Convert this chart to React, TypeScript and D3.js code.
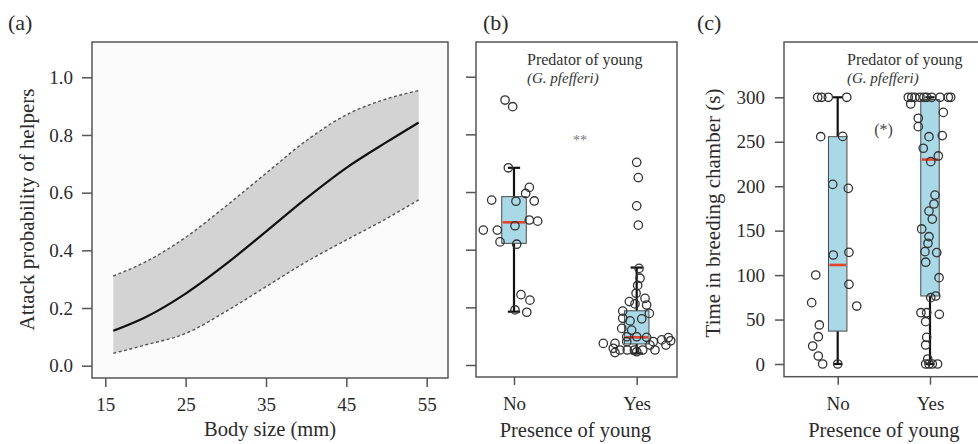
import React, { useRef, useEffect } from 'react';
import * as d3 from 'd3';

// (a) fitted attack probability vs body size
const bodySize = [16, 20, 25, 30, 35, 40, 45, 50, 54];
const attackFit = [0.121, 0.168, 0.25, 0.352, 0.465, 0.58, 0.686, 0.775, 0.843];
const attackUpper = [0.311, 0.36, 0.445, 0.553, 0.667, 0.78, 0.87, 0.925, 0.954];
const attackLower = [0.043, 0.072, 0.112, 0.188, 0.274, 0.36, 0.436, 0.51, 0.575];
const probTicks = [0, 0.2, 0.4, 0.6, 0.8, 1.0];
const sizeTicks = [15, 25, 35, 45, 55];

const groups = ['No', 'Yes'];

// (b) attack probability by presence of young
const attackNo = [0.919, 0.896, 0.684, 0.616, 0.595, 0.572, 0.568, 0.569, 0.499, 0.503, 0.483, 0.468, 0.468, 0.427, 0.419, 0.244, 0.225, 0.191, 0.183];
const attackNoJitter = [-0.073, -0.011, -0.046, 0.125, 0.095, -0.182, 0.016, 0.165, 0.193, 0.125, 0.008, -0.25, -0.136, -0.114, 0.022, 0.057, 0.13, 0.008, 0.104];
const attackYes = [0.703, 0.65, 0.552, 0.485, 0.335, 0.301, 0.276, 0.249, 0.22, 0.231, 0.208, 0.212, 0.187, 0.179, 0.153, 0.16, 0.162, 0.121, 0.127, 0.098, 0.098, 0.096, 0.075, 0.075, 0.081, 0.081, 0.087, 0.095, 0.084, 0.069, 0.058, 0.043, 0.052, 0.052, 0.052, 0.052, 0.052, 0.046, 0.069];
const attackYesJitter = [0, 0.013, 0, 0.013, 0.019, 0.027, 0.008, -0.005, -0.06, 0.068, 0.081, -0.014, -0.114, 0.103, -0.054, 0.041, -0.114, -0.041, -0.122, -0.081, 0, 0.081, -0.272, -0.177, -0.081, 0.135, 0.204, 0.258, 0.277, 0.238, -0.191, -0.177, -0.136, -0.077, -0.019, 0.049, 0.149, 0, 0.108];
const attackQ1 = [0.422, 0.073];
const attackMedian = [0.495, 0.096];
const attackQ3 = [0.584, 0.188];
const attackWhiskerLow = [0.185, 0.04];
const attackWhiskerHigh = [0.684, 0.338];

// (c) time in breeding chamber
const timeTicks = [0, 50, 100, 150, 200, 250, 300];
const timeNo = [300, 300, 300, 300, 255.7, 256, 202, 197.6, 122.6, 125.6, 89.6, 65.2, 100.1, 69, 43.9, 30.7, 20.2, 9, 0, 0];
const timeNoJitter = [-0.217, -0.173, -0.102, 0.098, -0.184, 0.054, -0.054, 0.115, -0.048, 0.122, 0.122, 0.206, -0.238, -0.282, -0.199, -0.21, -0.271, -0.21, -0.163, 0];
const timeYes = [300, 300, 300, 300, 300, 300, 300, 300, 300, 300, 292.5, 276.4, 267, 283, 255.7, 256.9, 242.7, 227.6, 234, 190, 180, 172, 163, 151.9, 143.2, 135.8, 126.4, 125.3, 114.5, 97.1, 76.5, 74.6, 57.7, 57.7, 55.9, 47.6, 30, 21.4, 5.6, 0, 0, 0, 0];
const timeYesJitter = [-0.235, -0.198, -0.163, -0.108, -0.065, -0.036, 0.018, 0.108, 0.198, 0.224, -0.209, -0.127, -0.127, 0.144, -0.011, 0.133, -0.073, 0.008, 0.09, 0.054, 0.043, -0.011, 0.025, -0.09, -0.011, -0.022, -0.054, 0.073, -0.047, 0.098, 0.062, 0.008, -0.098, -0.036, 0.101, -0.047, -0.036, -0.047, -0.025, -0.047, -0.011, 0.025, 0.082];
const timeQ1 = [37, 76.5];
const timeMedian = [111.4, 230];
const timeQ3 = [255.7, 297.5];
const timeWhiskerLow = [0, 0];
const timeWhiskerHigh = [300, 300];

const FONT = '"Liberation Serif", "Times New Roman", serif';
const INK = '#2b2b2b';
const FRAME = '#555';

export default function App() {
  const svgRef = useRef<SVGSVGElement>(null);

  useEffect(() => {
    if (!svgRef.current) return;
    const svg = d3.select(svgRef.current);
    svg.selectAll('*').remove();
    svg.style('font-family', FONT);

    const styleAxis = (g: any, fontSize: number) => {
      g.select('.domain').remove();
      g.attr('font-family', null);
      g.selectAll('line').attr('stroke', FRAME).attr('stroke-width', 1.5);
      g.selectAll('text').attr('fill', INK).style('font-size', `${fontSize}px`).style('font-family', FONT);
    };

    const panelLabel = (x: number, label: string) =>
      svg.append('text').attr('x', x).attr('y', 30).attr('fill', INK)
        .style('font-size', '22px').text(label);

    // ---------- Panel (a) ----------
    const a = { left: 92, right: 448, top: 42, bottom: 378 };
    const xA = d3.scaleLinear().domain([15, 55]).range([105.3, 426.7]);
    const yA = d3.scaleLinear().domain([0, 1]).range([365.7, 77.3]);

    svg.append('rect')
      .attr('x', a.left).attr('y', a.top)
      .attr('width', a.right - a.left).attr('height', a.bottom - a.top)
      .attr('fill', '#fbfbfb');

    const band = bodySize.map((s, i) => ({ s, lo: attackLower[i], hi: attackUpper[i], fit: attackFit[i] }));
    svg.append('path')
      .datum(band)
      .attr('fill', '#d3d3d3')
      .attr('d', d3.area<any>().curve(d3.curveMonotoneX)
        .x(d => xA(d.s)).y0(d => yA(d.lo)).y1(d => yA(d.hi)));

    (['lo', 'hi'] as const).forEach(key => {
      svg.append('path')
        .datum(band)
        .attr('fill', 'none')
        .attr('stroke', '#555')
        .attr('stroke-width', 1.4)
        .attr('stroke-dasharray', '3,2.5')
        .attr('d', d3.line<any>().curve(d3.curveMonotoneX).x(d => xA(d.s)).y(d => yA(d[key])));
    });

    svg.append('path')
      .datum(band)
      .attr('fill', 'none')
      .attr('stroke', '#111')
      .attr('stroke-width', 2.2)
      .attr('d', d3.line<any>().curve(d3.curveMonotoneX).x(d => xA(d.s)).y(d => yA(d.fit)));

    svg.append('rect')
      .attr('x', a.left).attr('y', a.top)
      .attr('width', a.right - a.left).attr('height', a.bottom - a.top)
      .attr('fill', 'none').attr('stroke', FRAME).attr('stroke-width', 1.5);

    svg.append('g')
      .attr('transform', `translate(${a.left},0)`)
      .call(d3.axisLeft(yA).tickValues(probTicks).tickFormat(d3.format('.1f')).tickSize(10).tickPadding(9) as any)
      .call((g: any) => styleAxis(g, 19));

    svg.append('g')
      .attr('transform', `translate(0,${a.bottom})`)
      .call(d3.axisBottom(xA).tickValues(sizeTicks).tickFormat(d3.format('d')).tickSize(9).tickPadding(11) as any)
      .call((g: any) => styleAxis(g, 19));

    svg.append('text')
      .attr('transform', 'translate(34,209.5) rotate(-90)')
      .attr('text-anchor', 'middle').attr('fill', INK)
      .style('font-size', '21px')
      .text('Attack probability of helpers');

    svg.append('text')
      .attr('x', (a.left + a.right) / 2).attr('y', 436)
      .attr('text-anchor', 'middle').attr('fill', INK)
      .style('font-size', '20.5px')
      .text('Body size (mm)');

    panelLabel(8, '(a)');

    // ---------- box plot panels ----------
    const drawBoxPanel = (opts: {
      frame: { left: number; right: number; top: number; bottom: number };
      x: d3.ScaleLinear<number, number>;
      y: d3.ScaleLinear<number, number>;
      q1: number[]; med: number[]; q3: number[]; lo: number[]; hi: number[];
      pts: { v: number[]; j: number[] }[];
      yTicks: number[];
      yLabels: boolean;
    }) => {
      const { frame, x, y } = opts;
      const g = svg.append('g');
      const boxW = 0.2;
      const capW = 0.1;

      groups.forEach((_, i) => {
        const c = i + 1;
        // whiskers
        g.append('line')
          .attr('x1', x(c)).attr('x2', x(c))
          .attr('y1', y(opts.q3[i])).attr('y2', y(opts.hi[i]))
          .attr('stroke', '#111').attr('stroke-width', 2.2);
        g.append('line')
          .attr('x1', x(c)).attr('x2', x(c))
          .attr('y1', y(opts.q1[i])).attr('y2', y(opts.lo[i]))
          .attr('stroke', '#111').attr('stroke-width', 2.2);
        [opts.hi[i], opts.lo[i]].forEach(v => {
          g.append('line')
            .attr('x1', x(c - capW / 2)).attr('x2', x(c + capW / 2))
            .attr('y1', y(v)).attr('y2', y(v))
            .attr('stroke', '#111').attr('stroke-width', 2.2);
        });
        // box
        g.append('rect')
          .attr('x', x(c - boxW / 2)).attr('width', x(c + boxW / 2) - x(c - boxW / 2))
          .attr('y', y(opts.q3[i])).attr('height', y(opts.q1[i]) - y(opts.q3[i]))
          .attr('fill', '#a9d8e6').attr('stroke', '#4a4a4a').attr('stroke-width', 1);
        g.append('line')
          .attr('x1', x(c - boxW / 2) + 1).attr('x2', x(c + boxW / 2) - 1)
          .attr('y1', y(opts.med[i])).attr('y2', y(opts.med[i]))
          .attr('stroke', '#e2452c').attr('stroke-width', 2.6);
      });

      // points
      opts.pts.forEach((p, i) => {
        g.selectAll(null)
          .data(p.v.map((v, k) => ({ v, j: p.j[k] })))
          .join('circle')
          .attr('cx', d => x(i + 1 + d.j))
          .attr('cy', d => y(d.v))
          .attr('r', 4.2)
          .attr('fill', 'none')
          .attr('stroke', '#333')
          .attr('stroke-width', 1.3);
      });

      g.append('rect')
        .attr('x', frame.left).attr('y', frame.top)
        .attr('width', frame.right - frame.left).attr('height', frame.bottom - frame.top)
        .attr('fill', 'none').attr('stroke', FRAME).attr('stroke-width', 1.5);

      const yAxis = d3.axisLeft(y).tickValues(opts.yTicks).tickSize(opts.yLabels ? 9 : 10).tickPadding(10);
      if (!opts.yLabels) yAxis.tickFormat(() => '');
      else yAxis.tickFormat(d3.format('d'));
      g.append('g')
        .attr('transform', `translate(${frame.left},0)`)
        .call(yAxis as any)
        .call((s: any) => styleAxis(s, 19));

      g.append('g')
        .attr('transform', `translate(0,${frame.bottom})`)
        .call(d3.axisBottom(x).tickValues([1, 2]).tickFormat((_, k) => groups[k]).tickSize(8).tickPadding(12) as any)
        .call((s: any) => styleAxis(s, 19));

      g.append('text')
        .attr('x', x(1.5)).attr('y', 437)
        .attr('text-anchor', 'middle').attr('fill', INK)
        .style('font-size', '20.5px')
        .text('Presence of young');
    };

    const predatorNote = (x: number) => {
      svg.append('text').attr('x', x).attr('y', 65).attr('fill', '#333')
        .style('font-size', '16px').text('Predator of young');
      svg.append('text').attr('x', x).attr('y', 83).attr('fill', '#333')
        .style('font-size', '15px').style('font-style', 'italic').text('(G. pfefferi)');
    };

    // ---------- Panel (b) ----------
    const xB = d3.scaleLinear().domain([1, 2]).range([514, 636.7]);
    const yB = d3.scaleLinear().domain([0, 1]).range([365, 76.7]);
    drawBoxPanel({
      frame: { left: 476, right: 677, top: 42, bottom: 377 },
      x: xB, y: yB,
      q1: attackQ1, med: attackMedian, q3: attackQ3, lo: attackWhiskerLow, hi: attackWhiskerHigh,
      pts: [{ v: attackNo, j: attackNoJitter }, { v: attackYes, j: attackYesJitter }],
      yTicks: probTicks,
      yLabels: false,
    });
    predatorNote(527);
    svg.append('text').attr('x', 580).attr('y', 145).attr('text-anchor', 'middle')
      .attr('fill', '#777').style('font-size', '14px').text('**');
    panelLabel(483, '(b)');

    // ---------- Panel (c) ----------
    const xC = d3.scaleLinear().domain([1, 2]).range([837.7, 930]);
    const yC = d3.scaleLinear().domain([0, 300]).range([364, 97.3]);
    drawBoxPanel({
      frame: { left: 784, right: 986, top: 42, bottom: 376.7 },
      x: xC, y: yC,
      q1: timeQ1, med: timeMedian, q3: timeQ3, lo: timeWhiskerLow, hi: timeWhiskerHigh,
      pts: [{ v: timeNo, j: timeNoJitter }, { v: timeYes, j: timeYesJitter }],
      yTicks: timeTicks,
      yLabels: true,
    });
    predatorNote(847);
    svg.append('text').attr('x', 883.5).attr('y', 135).attr('text-anchor', 'middle')
      .attr('fill', '#444').style('font-size', '16px').text('(*)');

    svg.append('text')
      .attr('transform', 'translate(720,213) rotate(-90)')
      .attr('text-anchor', 'middle').attr('fill', INK)
      .style('font-size', '21px')
      .text('Time in breeding chamber (s)');

    panelLabel(697, '(c)');
  }, []);

  return (
    <div style={{ position: 'absolute', left: 0, top: 0, background: '#fff' }}>
      <svg ref={svgRef} width={978} height={444} style={{ display: 'block' }} />
    </div>
  );
}
